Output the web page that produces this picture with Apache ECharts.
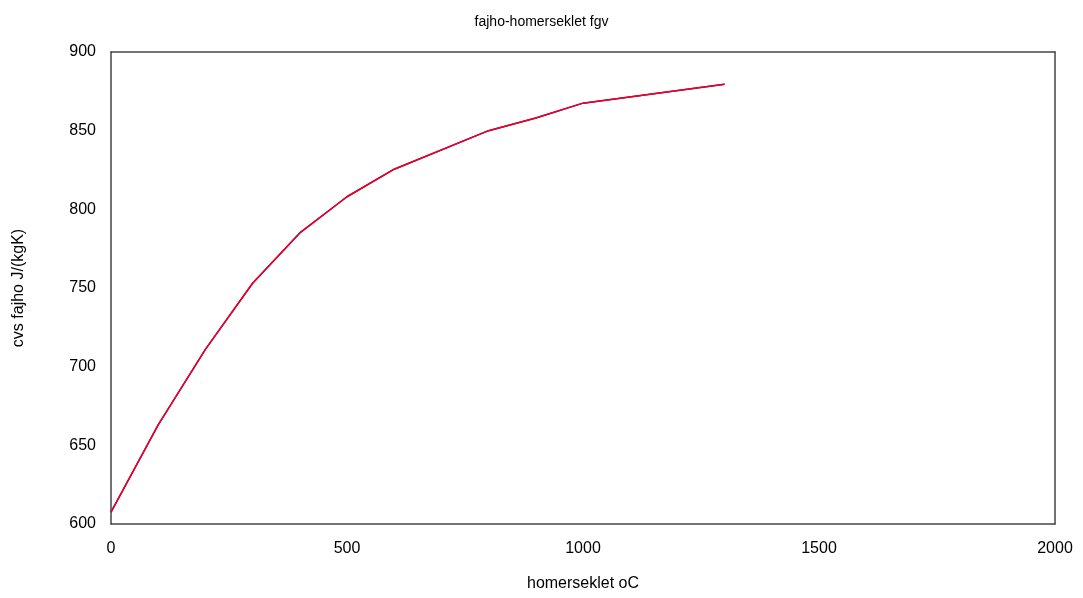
<!DOCTYPE html>
<html>
<head>
<meta charset="utf-8">
<script src="https://cdn.jsdelivr.net/npm/echarts@6/dist/echarts.min.js"></script>
<style>
  html, body { margin: 0; padding: 0; background: #fff; }
  #chart { width: 1083px; height: 598px; }
</style>
</head>
<body>
<div id="chart"></div>
<script>
const temps = [0, 100, 200, 300, 400, 500, 600, 800, 900, 1000, 1300];
const cvsBlue = [607.5, 663, 711, 753, 785, 808, 825.5, 850, 858, 867.5, 879.5];
const cvsRed = [607.5, 663, 711, 753, 785, 808, 825.5, 850, 858, 867.5, 879.5];

const font = 'Liberation Sans, Arial, sans-serif';
const axisLine = { show: true, onZero: false, lineStyle: { color: '#444', width: 1.5 } };
const noTick = { show: false };

const chart = echarts.init(document.getElementById('chart'), null, { renderer: 'canvas' });
chart.setOption({
  animation: false,
  backgroundColor: '#fff',
  title: {
    text: 'fajho-homerseklet fgv',
    left: 'center',
    top: 10,
    textStyle: { fontFamily: font, fontSize: 14, fontWeight: 'normal', color: '#000' }
  },
  grid: { left: 111, right: 28, top: 52, bottom: 74 },
  xAxis: [
    {
      type: 'value', min: 0, max: 2000, interval: 500,
      name: 'homerseklet oC', nameLocation: 'middle', nameGap: 52,
      nameTextStyle: { fontFamily: font, fontSize: 16, color: '#000' },
      axisLine, axisTick: noTick,
      axisLabel: { fontFamily: font, fontSize: 16, color: '#000', margin: 17, formatter: v => String(v) },
      splitLine: { show: false }
    },
    {
      type: 'value', min: 0, max: 2000, interval: 500, position: 'top',
      axisLine, axisTick: noTick, axisLabel: { show: false }, splitLine: { show: false }
    }
  ],
  yAxis: [
    {
      type: 'value', min: 600, max: 900, interval: 50,
      name: 'cvs fajho J/(kgK)', nameLocation: 'middle', nameGap: 84,
      nameTextStyle: { fontFamily: font, fontSize: 16, color: '#000' },
      axisLine, axisTick: noTick,
      axisLabel: { fontFamily: font, fontSize: 16, color: '#000', margin: 15, formatter: v => String(v) },
      splitLine: { show: false }
    },
    {
      type: 'value', min: 600, max: 900, interval: 50, position: 'right',
      axisLine, axisTick: noTick, axisLabel: { show: false }, splitLine: { show: false }
    }
  ],
  series: [
    {
      type: 'line', data: temps.map((t, i) => [t, cvsBlue[i]]),
      showSymbol: false, lineStyle: { color: '#0000ff', width: 1.5 }
    },
    {
      type: 'line', data: temps.map((t, i) => [t, cvsRed[i]]),
      showSymbol: false, lineStyle: { color: '#ff0000', width: 1.5 }
    }
  ]
});
</script>
</body>
</html>
